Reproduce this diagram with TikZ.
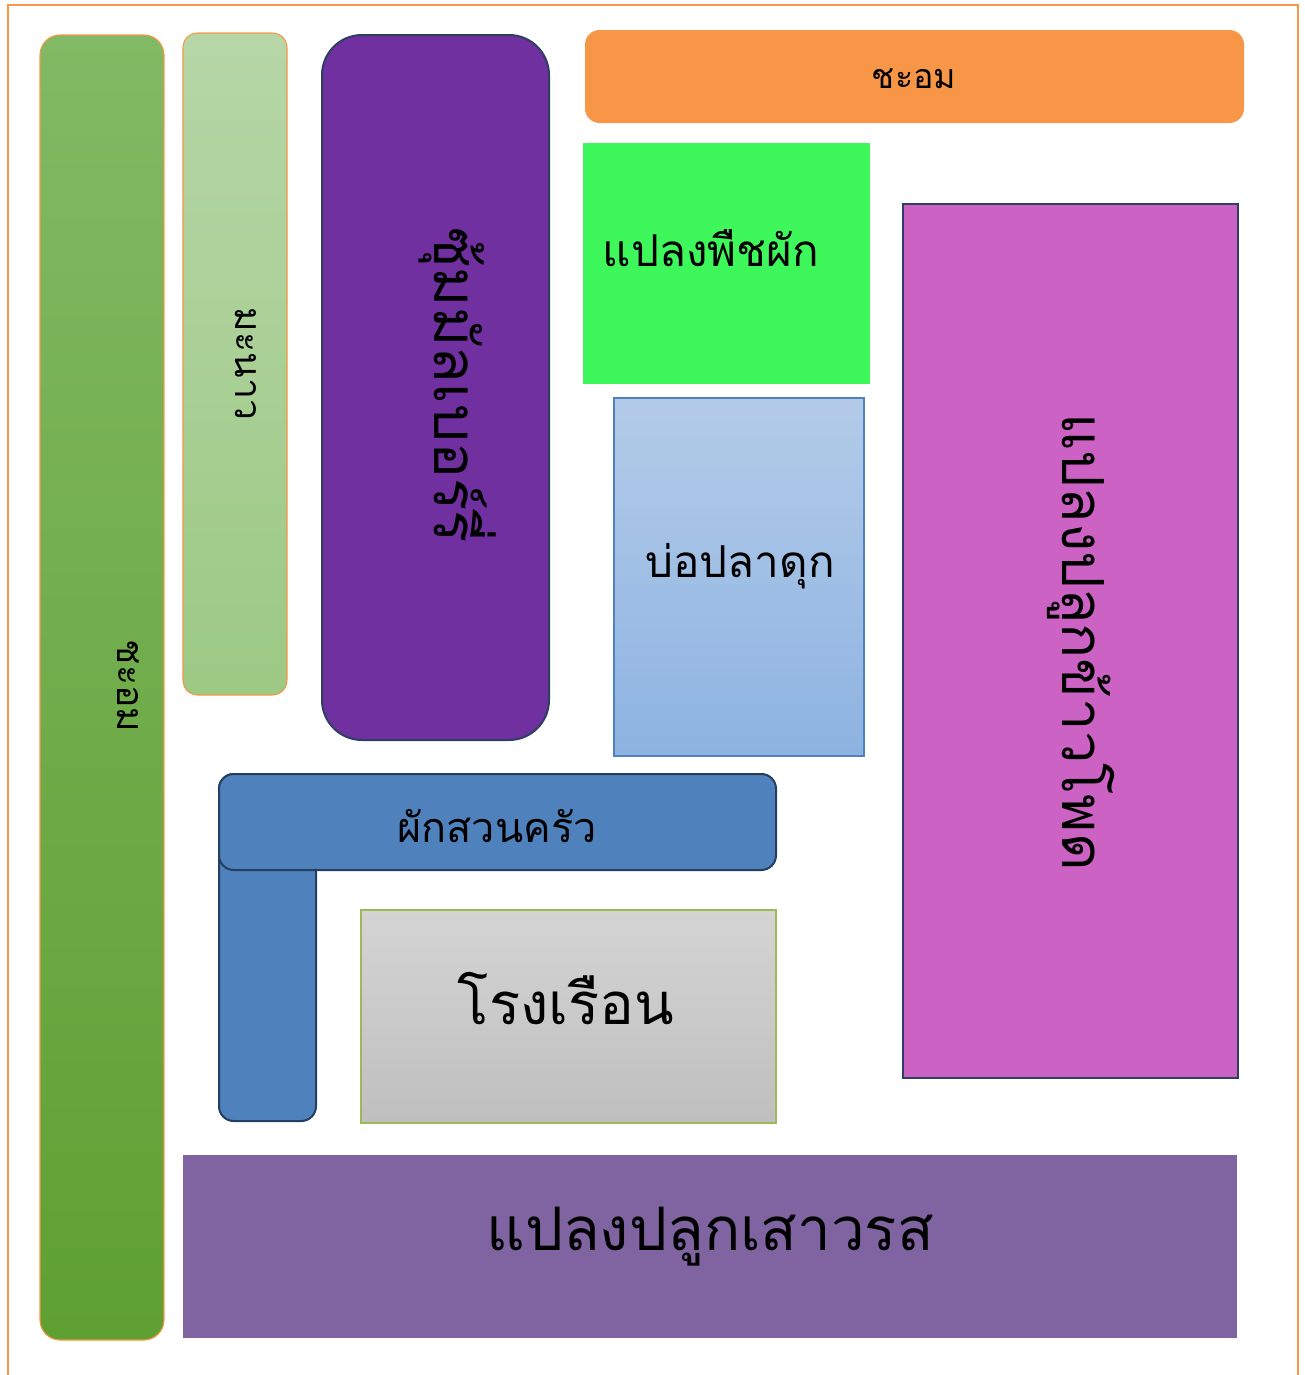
\documentclass[tikz,border=0pt]{standalone}
\usepackage{fontspec}
\newfontfamily\thaifont[Script=Thai]{Loma}
\usepackage{tikz}
\definecolor{frameorange}{HTML}{F79646}
\definecolor{edgenavy}{HTML}{2E4061}
\definecolor{edgeblue}{HTML}{243F60}
\definecolor{hedgetop}{HTML}{82B964}
\definecolor{hedgebot}{HTML}{5FA032}
\definecolor{limetop}{HTML}{B6D6A7}
\definecolor{limebot}{HTML}{9CC984}
\definecolor{arbour}{HTML}{7030A0}
\definecolor{vegfill}{HTML}{3EF75B}
\definecolor{pondedge}{HTML}{4F81BD}
\definecolor{pondtop}{HTML}{B3CBE8}
\definecolor{pondbot}{HTML}{8DB3E2}
\definecolor{cornfill}{HTML}{CD62C5}
\definecolor{kitchenfill}{HTML}{4F81BD}
\definecolor{housetop}{HTML}{D4D4D4}
\definecolor{housebot}{HTML}{BFBFBF}
\definecolor{houseedge}{HTML}{9BBB59}
\definecolor{passionfill}{HTML}{8064A2}
\tikzstyle{bed} = [line width=1.5pt]
\tikzstyle{thinbed} = [line width=0.8pt]
\tikzstyle{lbl} = [font=\thaifont, text=black, inner sep=0pt]
\newcommand\thsz[1]{\fontsize{#1}{#1}\selectfont}

\begin{document}
\begin{tikzpicture}[x=0.75pt, y=-0.75pt]
\useasboundingbox (0,0) rectangle (1305,1375);
\fill[white] (0,0) rectangle (1305,1375);
% frame
\draw[frameorange, line width=1.6pt] (8,5) rectangle (1298,1420);
% hedges on the left
\shadedraw[thinbed, draw=frameorange, rounded corners=15pt, top color=hedgetop, bottom color=hedgebot] (40,35) rectangle (164,1340);
\shadedraw[thinbed, draw=frameorange, rounded corners=11pt, top color=limetop, bottom color=limebot] (183,33) rectangle (287,695);
\node[lbl, font=\thaifont\thsz{28}, rotate=-90] (chaomside) at (128,686) {ชะอม};
\node[lbl, font=\thaifont\thsz{28}, rotate=-90] (manao) at (246,364) {มะนาว};
% mulberry arbour
\draw[bed, draw=edgenavy, fill=arbour, rounded corners=30pt] (322,35) rectangle (549,740);
\node[lbl, font=\thaifont\thsz{45}, rotate=-90] (mulberry) at (458,385) {ซุ้มมัลเบอร์รี่};
% top row
\fill[frameorange, rounded corners=11pt] (585,30) rectangle (1244,123);
\node[lbl, font=\thaifont\thsz{25.5}] (chaomtop) at (914,79) {ชะอม};
\fill[vegfill] (583,143) rectangle (870,384);
\node[lbl, font=\thaifont\thsz{33}] (vegplot) at (711,248) {แปลงพืชผัก};
% fish pond
\shadedraw[thinbed, draw=pondedge, top color=pondtop, bottom color=pondbot] (614,398) rectangle (864,756);
\node[lbl, font=\thaifont\thsz{33}] (pond) at (740,566) {บ่อปลาดุก};
% corn plot
\draw[bed, draw=edgenavy, fill=cornfill] (903,204) rectangle (1238,1078);
\node[lbl, font=\thaifont\thsz{43.5}, rotate=-90] (corn) at (1081,642) {แปลงปลูกข้าวโพด};
% kitchen garden (L shape)
\draw[bed, draw=edgeblue, fill=kitchenfill, rounded corners=11pt] (219,774) rectangle (316,1121);
\draw[bed, draw=edgeblue, fill=kitchenfill, rounded corners=11pt] (219,774) rectangle (776,870);
\node[lbl, font=\thaifont\thsz{31}] (kitchen) at (497,826) {ผักสวนครัว};
% greenhouse
\shadedraw[thinbed, draw=houseedge, top color=housetop, bottom color=housebot] (361,910) rectangle (776,1123);
\node[lbl, font=\thaifont\thsz{43.5}] (greenhouse) at (566,999) {โรงเรือน};
% passion fruit plot
\fill[passionfill] (183,1155) rectangle (1237,1338);
\node[lbl, font=\thaifont\thsz{45}] (passion) at (710,1237) {แปลงปลูกเสาวรส};
\end{tikzpicture}
\end{document}
